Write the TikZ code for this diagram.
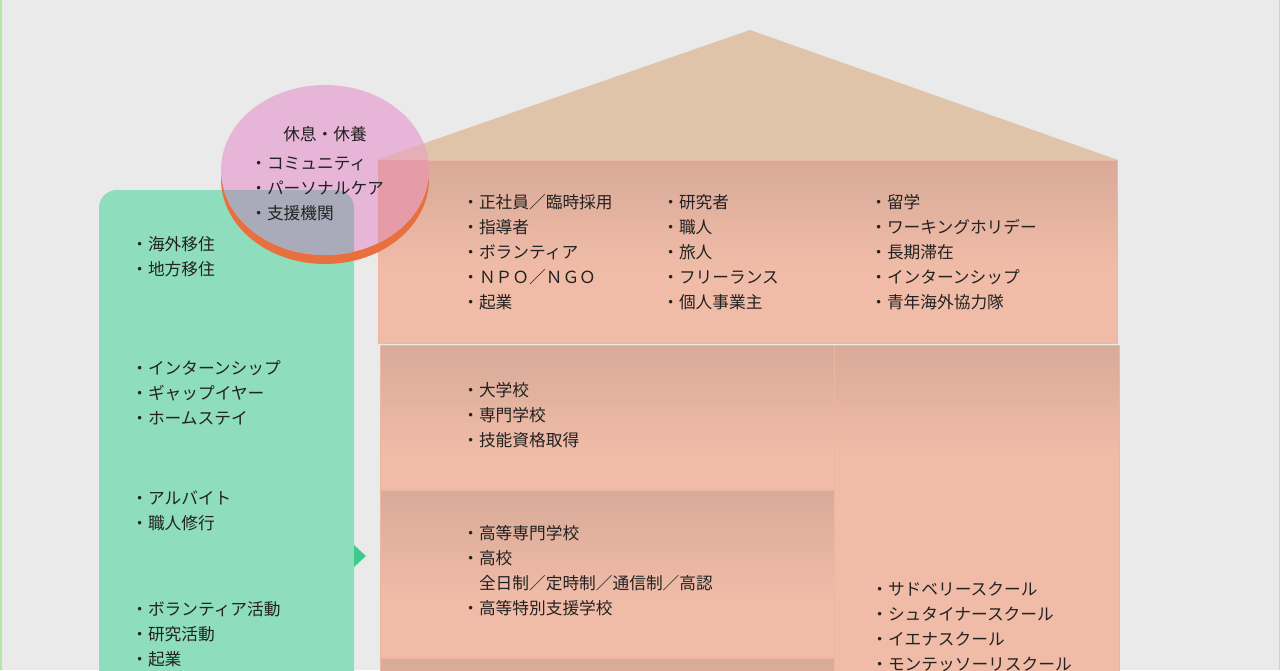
\documentclass[tikz,border=0pt]{standalone}
\usepackage{fontspec}
\setmainfont{Noto Sans CJK JP}
\definecolor{bgc}{HTML}{EAEAEA}
\definecolor{edgegreen}{HTML}{B4E6A8}
\definecolor{roofc}{HTML}{E0C4AA}
\definecolor{boxdark}{HTML}{D8AA98}
\definecolor{boxlight}{HTML}{F0BCA8}
\definecolor{boxedge}{HTML}{EEB6A0}
\definecolor{panelc}{HTML}{8EDDBC}
\definecolor{arrowc}{HTML}{3CCB8F}
\definecolor{pinkc}{HTML}{E6B5D7}
\definecolor{orangec}{HTML}{E8703E}
\definecolor{grayov}{HTML}{A9ABBA}
\definecolor{redov}{HTML}{E69CA6}
\definecolor{roofov}{HTML}{E6AEB8}
\definecolor{txtc}{HTML}{222222}
\newcommand\shadedbox[4]{%
  \fill[boxlight] (#1,#2) rectangle (#3,#4);
  \shade[top color=boxdark, bottom color=boxlight] (#1,#2) rectangle (#3,{#2+110});
  \draw[boxedge, line width=0.8pt] (#1,#2) rectangle (#3,#4);
}
\begin{document}
\begin{tikzpicture}[x=1pt, y=-1pt,
  txt/.style={anchor=base west, inner sep=0pt, outer sep=0pt, text=txtc, font=\fontsize{16.7}{25}\selectfont}]
\useasboundingbox (0,0) rectangle (1280,670);
\fill[bgc] (0,0) rectangle (1280,670);
\fill[edgegreen] (0,0) rectangle (1.5,670);
\fill[edgegreen] (1278.5,0) rectangle (1280,670);

% roof
\fill[roofc] (376,160) -- (750,30) -- (1118,160) -- cycle;
% boxes
\shadedbox{378}{160}{1117}{343}
\shadedbox{834}{345}{1119}{680}
\shadedbox{380}{345}{834}{489}
\shadedbox{380}{490}{834}{657}
\shadedbox{380}{658}{834}{680}

% green panel
\fill[panelc] (99,680) [rounded corners=18pt] -- (99,190) -- (354,190) [sharp corners] -- (354,680) -- cycle;
\fill[arrowc] (354,545) -- (366,556) -- (354,567) -- cycle;

% circle
\fill[orangec] (325,179) ellipse [x radius=104, y radius=85];
\fill[pinkc] (325,170) ellipse [x radius=104, y radius=85];
\begin{scope}
  \clip (325,170) ellipse [x radius=104, y radius=85];
  \fill[roofov] (376,160) -- (750,30) -- (1118,160) -- cycle;
  \fill[redov] (378,160) rectangle (1117,343);
  \fill[grayov] (99,680) [rounded corners=18pt] -- (99,190) -- (354,190) [sharp corners] -- (354,680) -- cycle;
\end{scope}

% circle texts
\node[txt, anchor=base] (title) at (325,140) {休息・休養};
\foreach \t [count=\i] in {・コミュニティ,・パーソナルケア,・支援機関}
  \node[txt] (c\i) at (250.3,{169+25*(\i-1)}) {\t};

% top box
\foreach \t [count=\i] in {・正社員／臨時採用,・指導者,・ボランティア,・ＮＰＯ／ＮＧＯ,・起業}
  \node[txt] (a\i) at (462.3,{208+25*(\i-1)}) {\t};
\foreach \t [count=\i] in {・研究者,・職人,・旅人,・フリーランス,・個人事業主}
  \node[txt] (b\i) at (662.3,{208+25*(\i-1)}) {\t};
\foreach \t [count=\i] in {・留学,・ワーキングホリデー,・長期滞在,・インターンシップ,・青年海外協力隊}
  \node[txt] (d\i) at (870.3,{208+25*(\i-1)}) {\t};

% middle boxes
\foreach \t [count=\i] in {・大学校,・専門学校,・技能資格取得}
  \node[txt] (e\i) at (462.3,{396+25*(\i-1)}) {\t};
\node[txt] (f1) at (462.3,539) {・高等専門学校};
\node[txt] (f2) at (462.3,564) {・高校};
\node[txt] (f3) at (479,589) {全日制／定時制／通信制／高認};
\node[txt] (f4) at (462.3,614) {・高等特別支援学校};

% right box
\foreach \t [count=\i] in {・サドベリースクール,・シュタイナースクール,・イエナスクール,・モンテッソーリスクール}
  \node[txt] (g\i) at (871.3,{595+25*(\i-1)}) {\t};

% left panel
\node[txt] (h1) at (131.3,250) {・海外移住};
\node[txt] (h2) at (131.3,275) {・地方移住};
\node[txt] (h3) at (131.3,374) {・インターンシップ};
\node[txt] (h4) at (131.3,399) {・ギャップイヤー};
\node[txt] (h5) at (131.3,424) {・ホームステイ};
\node[txt] (h6) at (131.3,504) {・アルバイト};
\node[txt] (h7) at (131.3,529) {・職人修行};
\node[txt] (h8) at (131.3,615) {・ボランティア活動};
\node[txt] (h9) at (131.3,640) {・研究活動};
\node[txt] (h10) at (131.3,665) {・起業};
\end{tikzpicture}
\end{document}
